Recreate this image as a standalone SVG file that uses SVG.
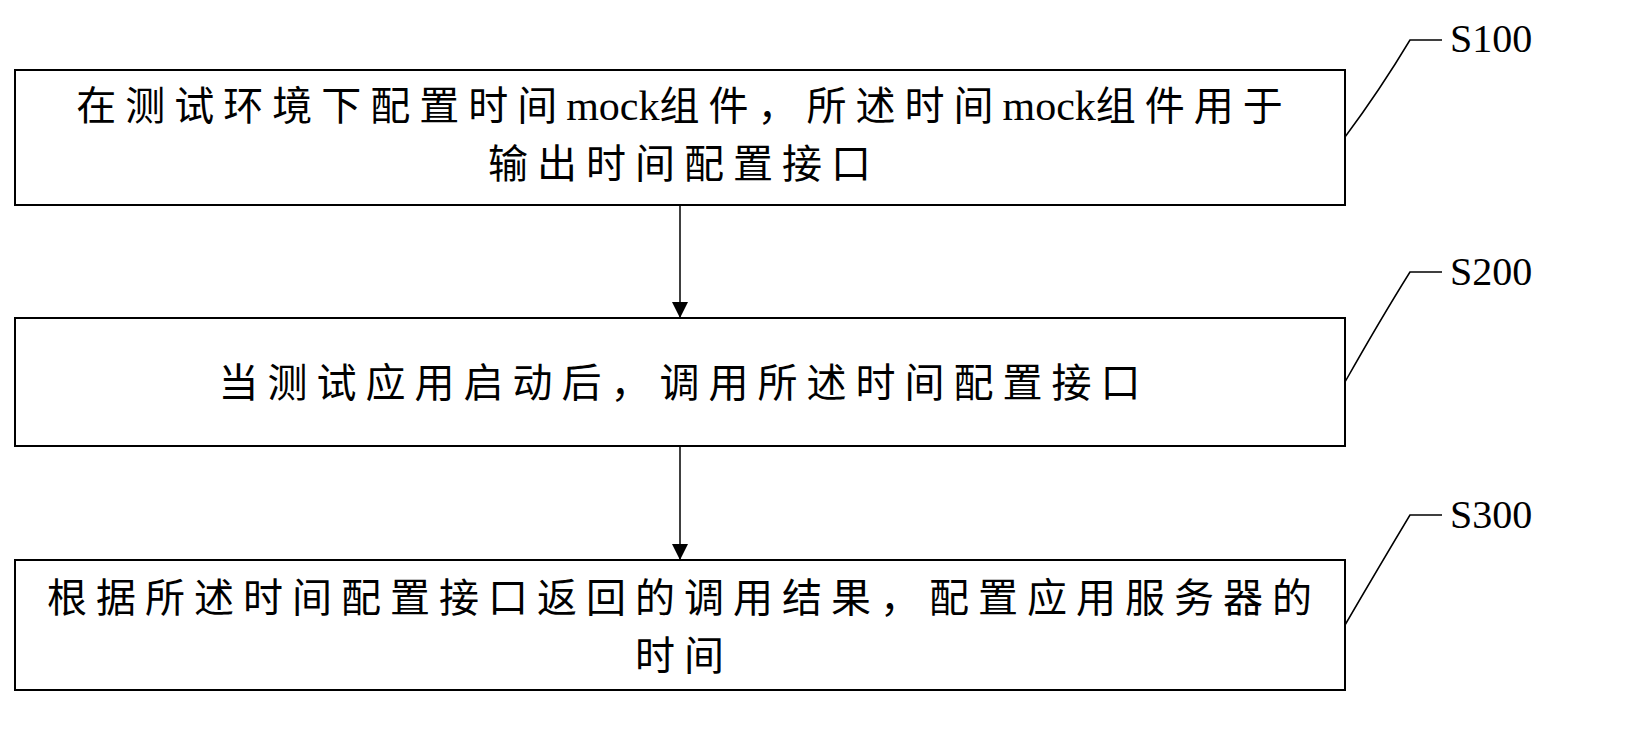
<svg xmlns="http://www.w3.org/2000/svg" width="1625" height="731" viewBox="0 0 1625 731">
<style>
.box{fill:#fff;stroke:#000;stroke-width:2}
.t{font-family:"Liberation Serif","Noto Sans CJK SC",serif;font-size:40px;letter-spacing:9px;text-anchor:middle;fill:#000}
.m{letter-spacing:0px;font-size:42px}
.l{font-family:"Liberation Serif",serif;font-size:40px;fill:#000}
.c{fill:none;stroke:#000;stroke-width:1.5}
</style>
<defs><marker id="a" markerWidth="16" markerHeight="20" refX="16" refY="8" orient="auto" markerUnits="userSpaceOnUse"><path d="M0,0 L16,8 L0,16 Z" fill="#000"/></marker></defs>
<rect width="1625" height="731" fill="#fff"/>
<g id="n1"><rect class="box" x="15" y="70" width="1330" height="135"/>
<text class="t" x="684" y="120">在测试环境下配置时间<tspan class="m">mock</tspan>组件，所述时间<tspan class="m">mock</tspan>组件用于</text>
<text class="t" x="684" y="178">输出时间配置接口</text></g>
<g id="n2"><rect class="box" x="15" y="318" width="1330" height="128"/>
<text class="t" x="684" y="397">当测试应用启动后，调用所述时间配置接口</text></g>
<g id="n3"><rect class="box" x="15" y="560" width="1330" height="130"/>
<text class="t" x="684" y="612">根据所述时间配置接口返回的调用结果，配置应用服务器的</text>
<text class="t" x="684" y="670">时间</text></g>
<g id="labels">
<text class="l" x="1450" y="52">S100</text>
<text class="l" x="1450" y="285">S200</text>
<text class="l" x="1450" y="528">S300</text></g>
<g id="connectors">
<line class="c" x1="680" y1="205" x2="680" y2="318" marker-end="url(#a)"/>
<line class="c" x1="680" y1="446" x2="680" y2="560" marker-end="url(#a)"/>
<path class="c" d="M1345,137 Q1380,90 1410,40 L1442,40"/>
<path class="c" d="M1345,382 Q1380,320 1410,272 L1442,272"/>
<path class="c" d="M1345,625 Q1380,565 1410,515 L1442,515"/>
</g>
</svg>
